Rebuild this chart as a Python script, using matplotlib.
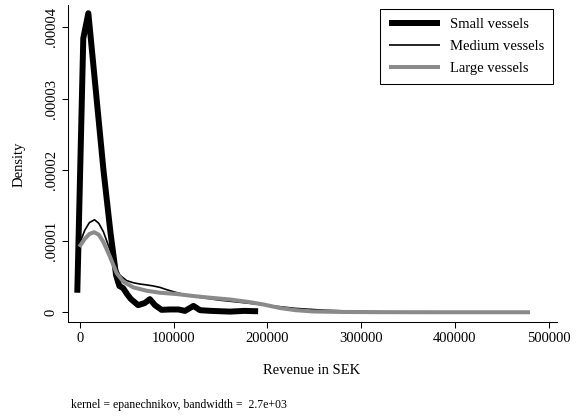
import matplotlib
matplotlib.use("Agg")
import matplotlib.pyplot as plt

plt.rcParams['font.family'] = ['Liberation Serif', 'DejaVu Serif']

# kernel density estimates of revenue (SEK) by vessel size
small_x = [-2900, 3500, 8900, 15500, 25000, 32500, 38500, 42000, 46000, 50000,
           54000, 62000, 69000, 74500, 80000, 87000, 96000, 105000, 112000,
           121000, 128000, 140000, 160000, 175000, 190000]
small_y = [2.75e-6, 38.5e-6, 42.0e-6, 33.0e-6, 20.0e-6, 11.2e-6, 5.2e-6, 3.7e-6,
           3.4e-6, 2.6e-6, 1.9e-6, 1.0e-6, 1.3e-6, 1.85e-6, 1.0e-6, 0.35e-6,
           0.4e-6, 0.4e-6, 0.2e-6, 0.9e-6, 0.3e-6, 0.2e-6, 0.1e-6, 0.2e-6, 0.15e-6]

medium_x = [-1000, 5000, 10000, 15500, 20000, 25000, 32000, 37300, 42700, 49800,
            57000, 64000, 71000, 78200, 85300, 92000, 99500, 113800, 128000,
            149400, 175000, 199000, 230000, 260000, 300000, 340000, 380000]
medium_y = [9.45e-6, 11.5e-6, 12.6e-6, 13.0e-6, 12.5e-6, 11.3e-6, 8.75e-6, 6.6e-6,
            5.2e-6, 4.45e-6, 4.15e-6, 3.97e-6, 3.85e-6, 3.7e-6, 3.5e-6, 3.2e-6,
            2.9e-6, 2.4e-6, 2.1e-6, 1.7e-6, 1.35e-6, 1.0e-6, 0.55e-6, 0.3e-6,
            0.12e-6, 0.05e-6, 0.02e-6]

large_x = [-700, 5000, 10000, 15000, 20000, 24900, 32000, 39100, 46200, 56900,
           71100, 85300, 103000, 120900, 138700, 160000, 180000, 195600, 213400,
           230000, 248900, 280000, 320000, 380000, 430000, 480000]
large_y = [9.2e-6, 10.3e-6, 11.0e-6, 11.25e-6, 10.9e-6, 9.9e-6, 7.8e-6, 5.5e-6,
           4.3e-6, 3.5e-6, 3.03e-6, 2.75e-6, 2.57e-6, 2.29e-6, 2.05e-6, 1.8e-6,
           1.45e-6, 1.1e-6, 0.6e-6, 0.3e-6, 0.12e-6, 0.05e-6, 0.02e-6, 0.01e-6,
           0.01e-6, 0.01e-6]

xticks = [0, 100000, 200000, 300000, 400000, 500000]
yticks = [0, 0.00001, 0.00002, 0.00003, 0.00004]
ytick_labels = ['0', '.00001', '.00002', '.00003', '.00004']

fig = plt.figure(figsize=(5.77, 4.16), dpi=100)
ax = fig.add_axes([0.117, 0.2252, 0.8489, 0.7628])

ax.plot(small_x, small_y, color='black', lw=4.3, solid_capstyle='butt',
        label='Small vessels')
ax.plot(medium_x, medium_y, color='black', lw=1.2, solid_capstyle='butt',
        label='Medium vessels')
ax.plot(large_x, large_y, color='#8a8a8a', lw=2.9, solid_capstyle='butt',
        label='Large vessels')

ax.set_xlim(-13335, 509170)
ax.set_ylim(-1.404e-6, 4.316e-5)
ax.set_xticks(xticks)
ax.set_xticklabels([str(v) for v in xticks])
ax.set_yticks(yticks)
ax.set_yticklabels(ytick_labels)

for s in ['top', 'right']:
    ax.spines[s].set_visible(False)
for s in ['left', 'bottom']:
    ax.spines[s].set_linewidth(0.75)

ax.tick_params(axis='both', length=4.3, width=0.75, labelsize=10.5, pad=2.7)
ax.tick_params(axis='y', labelrotation=90)
for lab in ax.get_yticklabels():
    lab.set_va('center')

fig.text(19 / 577, 1 - 164 / 416, 'Density', rotation=90, ha='center',
         va='center', fontsize=10.5)
fig.text(312 / 577, 1 - 371 / 416, 'Revenue in SEK', ha='center',
         va='center', fontsize=10.5)
fig.text(71 / 577, 1 - 408.3 / 416,
         'kernel = epanechnikov, bandwidth =  2.7e+03', ha='left',
         va='baseline', fontsize=8.5)

leg = ax.legend(loc='upper right', bbox_to_anchor=(553 / 577, 1 - 9 / 416),
                bbox_transform=fig.transFigure, borderaxespad=0,
                fontsize=10.5, handlelength=3.5, handletextpad=0.7,
                labelspacing=0.6, borderpad=0.6, fancybox=False, framealpha=1)
leg.get_frame().set_edgecolor('black')
leg.get_frame().set_linewidth(0.75)

fig.savefig('out.png', dpi=100)
